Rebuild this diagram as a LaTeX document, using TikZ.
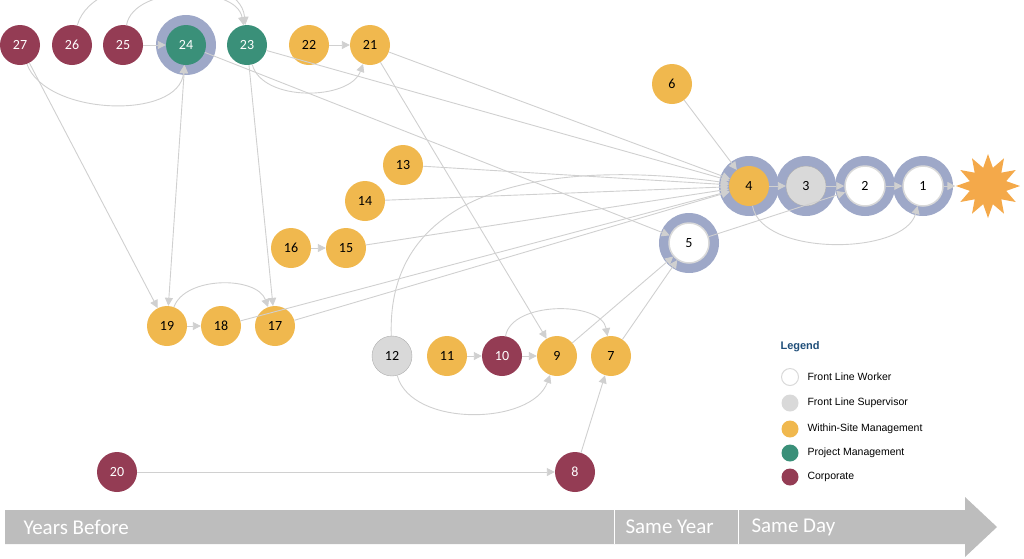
\documentclass[tikz,border=0pt]{standalone}
\usepackage{fontspec}
\setmainfont{Carlito}
\newfontfamily\legfont{Liberation Sans}
\usetikzlibrary{arrows.meta,shapes.geometric}
\definecolor{corp}{HTML}{943C54}
\definecolor{proj}{HTML}{3A9079}
\definecolor{site}{HTML}{F0B84E}
\definecolor{sup}{HTML}{D9D9D9}
\definecolor{ringc}{HTML}{9EA8C8}
\definecolor{edge}{HTML}{D0D0D0}
\definecolor{starc}{HTML}{F4A94A}
\definecolor{legt}{HTML}{1F4E79}
\definecolor{tl}{HTML}{BDBDBD}
\begin{document}
\begin{tikzpicture}[x=1pt,y=-1pt,
 n/.style={circle,minimum size=40pt,inner sep=0pt,font=\fontsize{14}{14}\selectfont},
 c/.style={n,fill=corp,text=white},
 p/.style={n,fill=proj,text=white},
 s/.style={n,fill=site,text=black},
 u/.style={n,fill=sup,draw=sup!80!black,text=black},
 w/.style={n,fill=white,draw=sup,line width=1.5pt,text=black},
 ring/.style={circle,fill=ringc,minimum size=60pt,inner sep=0pt},
 e/.style={draw=edge,line width=0.9pt,-{Triangle[length=8pt,width=8pt,fill=edge]}},
 lc/.style={circle,minimum size=17pt,inner sep=0pt},
 lt/.style={anchor=west,font=\legfont\fontsize{10.5}{12}\selectfont}]
\useasboundingbox (0,0) rectangle (1024,558);
% rings
\node[ring] (r24) at (186,45) {};
\node[ring] (r4) at (749,186) {};
\node[ring] (r3) at (806,186) {};
\node[ring] (r2) at (865,186) {};
\node[ring] (r1) at (923,186) {};
\node[ring] (r5) at (689,243) {};
% nodes
\node[c] (n27) at (20,45) {27};
\node[c] (n26) at (72,45) {26};
\node[c] (n25) at (123,45) {25};
\node[p] (n24) at (186,45) {24};
\node[p] (n23) at (247,45) {23};
\node[s] (n22) at (309,45) {22};
\node[s] (n21) at (370,45) {21};
\node[s] (n6) at (672,84) {6};
\node[s] (n13) at (403,165) {13};
\node[s] (n14) at (365,201) {14};
\node[s] (n16) at (291,248) {16};
\node[s] (n15) at (346,248) {15};
\node[s] (n4) at (749,186) {4};
\node[u] (n3) at (806,186) {3};
\node[w] (n2) at (865,186) {2};
\node[w] (n1) at (923,186) {1};
\node[w] (n5) at (689,243) {5};
\node[star,star points=12,star point ratio=1.7,fill=starc,minimum width=64pt,minimum height=60pt,inner sep=0pt] (st) at (988,186) {};
\node[s] (n19) at (167,326) {19};
\node[s] (n18) at (221,326) {18};
\node[s] (n17) at (275,326) {17};
\node[u] (n12) at (392,356) {12};
\node[s] (n11) at (447,356) {11};
\node[c] (n10) at (502,356) {10};
\node[s] (n9) at (557,356) {9};
\node[s] (n7) at (611,356) {7};
\node[c] (n20) at (117,472) {20};
\node[c] (n8) at (575,472) {8};
% edges
\draw[e] (n26) to[out=75,in=95,looseness=0.9] (n23);
\draw[e] (n25) to[out=80,in=100,looseness=0.9] (n23);
\draw[e] (n25) -- (n24);
\draw[e] (n27) to[out=-70,in=-95,looseness=0.9] (n24);
\draw[e] (n23) to[out=-75,in=-110,looseness=0.9] (n21);
\draw[e] (n22) -- (n21);
\draw[e] (n21) -- (n4);
\draw[e] (n21) -- (n9);
\draw[e] (n24) -- (n5);
\draw[e] (n23) -- (n4);
\draw[e] (n23) -- (n17);
\draw[e,{Triangle[length=8pt,width=8pt,fill=edge]}-{Triangle[length=8pt,width=8pt,fill=edge]}] (n24) -- (n19);
\draw[e] (n27) -- (n19);
\draw[e] (n6) -- (n4);
\draw[e] (n13) -- (n4);
\draw[e] (n14) -- (n4);
\draw[e] (n15) -- (n4);
\draw[e] (n16) -- (n15);
\draw[e] (n19) to[out=70,in=110,looseness=0.9] (n17);
\draw[e] (n19) -- (n18);
\draw[e] (n18) -- (n4);
\draw[e] (n17) -- (n4);
\draw[e] (n12) to[out=92,in=172,looseness=1.1] (n4);
\draw[e] (n12) to[out=-75,in=-110,looseness=0.9] (n9);
\draw[e] (n11) -- (n10);
\draw[e] (n10) -- (n9);
\draw[e] (n10) to[out=80,in=100,looseness=0.9] (n7);
\draw[e] (n9) -- (n5);
\draw[e] (n7) -- (n5);
\draw[e] (n20) -- (n8);
\draw[e] (n8) -- (n7);
\draw[e] (n4) -- (n3);
\draw[e] (n3) -- (n2);
\draw[e] (n2) -- (n1);
\draw[e] (n1) -- (st);
\draw[e] (n4) to[out=-80,in=-105,looseness=0.8] (n1);
\draw[e] (n5) -- (n2);
% legend
\node[anchor=west,font=\legfont\bfseries\fontsize{11}{12}\selectfont,text=legt] (lg) at (777,347) {Legend};
\node[lc,fill=white,draw=sup,line width=1pt] (l1) at (790,377) {};
\node[lc,fill=sup] (l2) at (790,403) {};
\node[lc,fill=site] (l3) at (790,429) {};
\node[lc,fill=proj] (l4) at (790,453) {};
\node[lc,fill=corp] (l5) at (790,477) {};
\node[lt] (t1) at (804,377) {Front Line Worker};
\node[lt] (t2) at (804,403) {Front Line Supervisor};
\node[lt] (t3) at (804,429) {Within-Site Management};
\node[lt] (t4) at (804,453) {Project Management};
\node[lt] (t5) at (804,477) {Corporate};
% timeline
\fill[tl] (5,510) -- (965,510) -- (965,497) -- (997,527) -- (965,557) -- (965,544) -- (5,544) -- cycle;
\draw[white,line width=1pt] (614,510) -- (614,544);
\draw[white,line width=1pt] (738,510) -- (738,544);
\node[anchor=west,text=white,font=\fontsize{21}{21}\selectfont] (ty) at (20,527) {Years Before};
\node[anchor=west,text=white,font=\fontsize{21}{21}\selectfont] (tsy) at (622,527) {Same Year};
\node[anchor=west,text=white,font=\fontsize{21}{21}\selectfont] (tsd) at (748,527) {Same Day};
\end{tikzpicture}
\end{document}
